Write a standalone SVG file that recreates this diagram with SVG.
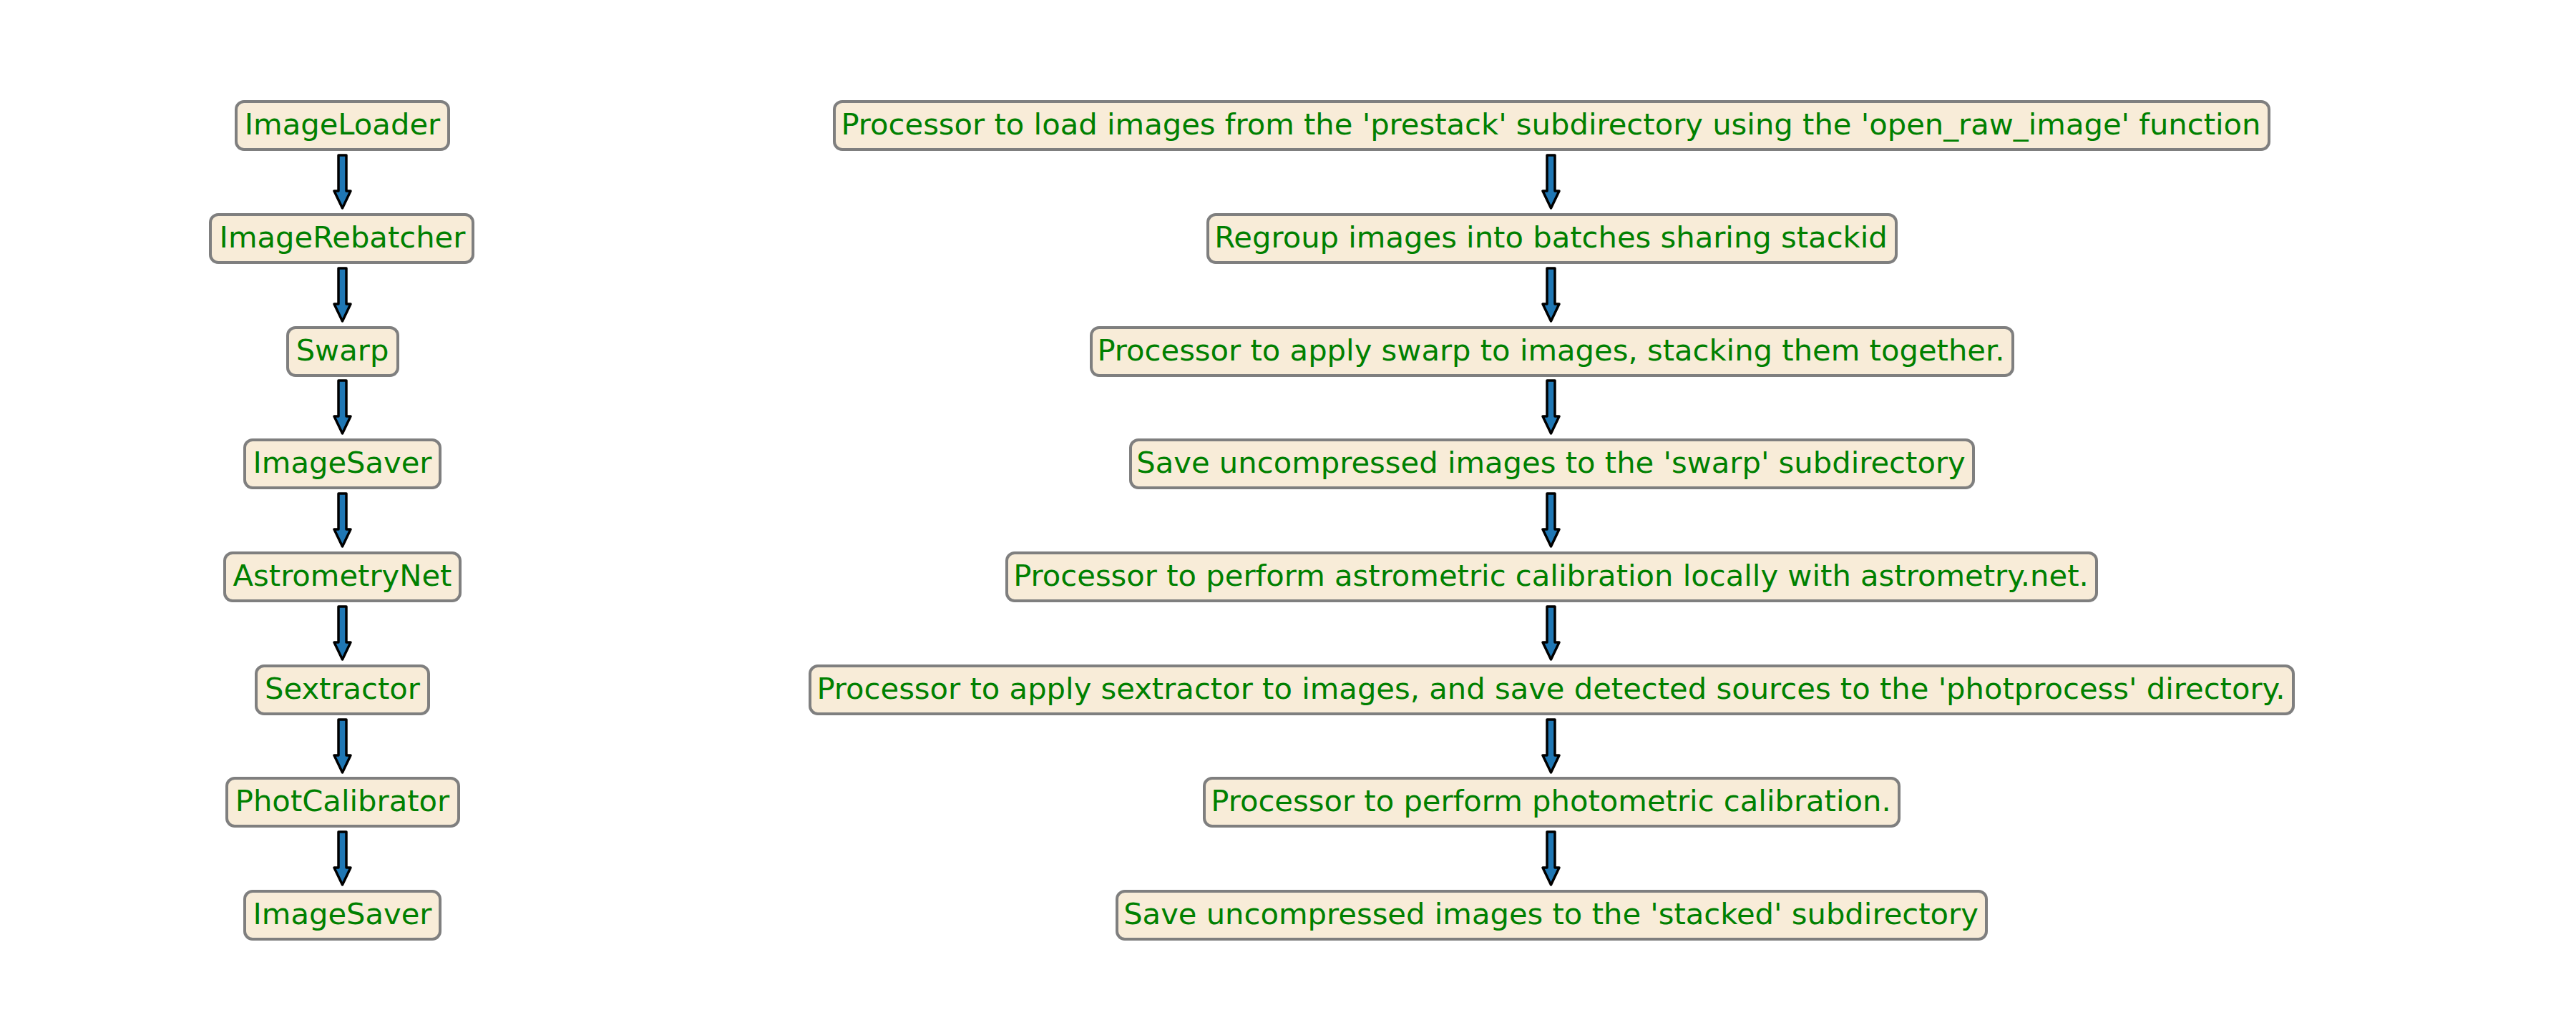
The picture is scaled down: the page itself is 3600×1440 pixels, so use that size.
<svg xmlns="http://www.w3.org/2000/svg" width="3600" height="1440" viewBox="0 0 3600 1440">
<style>
.b{fill:#f8ecd8;stroke:#7f7f7f;stroke-width:4}
.t{font-family:"DejaVu Sans",sans-serif;font-size:41.7px;fill:#008000;text-anchor:middle}
.a{fill:#1f77b4;stroke:#000;stroke-width:3.5;stroke-linejoin:round}
</style>
<rect width="3600" height="1440" fill="#fff"/>
<g id="connectors">
<path class="a" d="M473,217 H484 V267 H490 L478.5,291 L467,267 H473 Z"/>
<path class="a" d="M473,375 H484 V425 H490 L478.5,449 L467,425 H473 Z"/>
<path class="a" d="M473,532 H484 V582 H490 L478.5,606 L467,582 H473 Z"/>
<path class="a" d="M473,690 H484 V740 H490 L478.5,764 L467,740 H473 Z"/>
<path class="a" d="M473,848 H484 V898 H490 L478.5,922 L467,898 H473 Z"/>
<path class="a" d="M473,1006 H484 V1056 H490 L478.5,1080 L467,1056 H473 Z"/>
<path class="a" d="M473,1163 H484 V1213 H490 L478.5,1237 L467,1213 H473 Z"/>
<path class="a" d="M2162,217 H2173 V267 H2179 L2167.5,291 L2156,267 H2162 Z"/>
<path class="a" d="M2162,375 H2173 V425 H2179 L2167.5,449 L2156,425 H2162 Z"/>
<path class="a" d="M2162,532 H2173 V582 H2179 L2167.5,606 L2156,582 H2162 Z"/>
<path class="a" d="M2162,690 H2173 V740 H2179 L2167.5,764 L2156,740 H2162 Z"/>
<path class="a" d="M2162,848 H2173 V898 H2179 L2167.5,922 L2156,898 H2162 Z"/>
<path class="a" d="M2162,1006 H2173 V1056 H2179 L2167.5,1080 L2156,1056 H2162 Z"/>
<path class="a" d="M2162,1163 H2173 V1213 H2179 L2167.5,1237 L2156,1213 H2162 Z"/>
</g>
<g id="l0"><rect class="b" x="330" y="142" width="297" height="67" rx="11"/><text class="t" x="478.5" y="188">ImageLoader</text></g>
<g id="l1"><rect class="b" x="294" y="300" width="367" height="67" rx="11"/><text class="t" x="478.5" y="346">ImageRebatcher</text></g>
<g id="l2"><rect class="b" x="402" y="458" width="154" height="67" rx="11"/><text class="t" x="478.5" y="504">Swarp</text></g>
<g id="l3"><rect class="b" x="342" y="615" width="273" height="67" rx="11"/><text class="t" x="478.5" y="661">ImageSaver</text></g>
<g id="l4"><rect class="b" x="314" y="773" width="329" height="67" rx="11"/><text class="t" x="478.5" y="819">AstrometryNet</text></g>
<g id="l5"><rect class="b" x="358" y="931" width="241" height="67" rx="11"/><text class="t" x="478.5" y="977">Sextractor</text></g>
<g id="l6"><rect class="b" x="317" y="1088" width="324" height="67" rx="11"/><text class="t" x="478.5" y="1134">PhotCalibrator</text></g>
<g id="l7"><rect class="b" x="342" y="1246" width="273" height="67" rx="11"/><text class="t" x="478.5" y="1292">ImageSaver</text></g>
<g id="r0"><rect class="b" x="1166" y="142" width="2005" height="67" rx="11"/><text class="t" x="2167.5" y="188">Processor to load images from the 'prestack' subdirectory using the 'open_raw_image' function</text></g>
<g id="r1"><rect class="b" x="1688" y="300" width="962" height="67" rx="11"/><text class="t" x="2167.5" y="346">Regroup images into batches sharing stackid</text></g>
<g id="r2"><rect class="b" x="1525" y="458" width="1288" height="67" rx="11"/><text class="t" x="2167.5" y="504">Processor to apply swarp to images, stacking them together.</text></g>
<g id="r3"><rect class="b" x="1580" y="615" width="1178" height="67" rx="11"/><text class="t" x="2167.5" y="661">Save uncompressed images to the 'swarp' subdirectory</text></g>
<g id="r4"><rect class="b" x="1407" y="773" width="1523" height="67" rx="11"/><text class="t" x="2167.5" y="819">Processor to perform astrometric calibration locally with astrometry.net.</text></g>
<g id="r5"><rect class="b" x="1132" y="931" width="2073" height="67" rx="11"/><text class="t" x="2167.5" y="977">Processor to apply sextractor to images, and save detected sources to the 'photprocess' directory.</text></g>
<g id="r6"><rect class="b" x="1683" y="1088" width="971" height="67" rx="11"/><text class="t" x="2167.5" y="1134">Processor to perform photometric calibration.</text></g>
<g id="r7"><rect class="b" x="1561" y="1246" width="1215" height="67" rx="11"/><text class="t" x="2167.5" y="1292">Save uncompressed images to the 'stacked' subdirectory</text></g>
</svg>
